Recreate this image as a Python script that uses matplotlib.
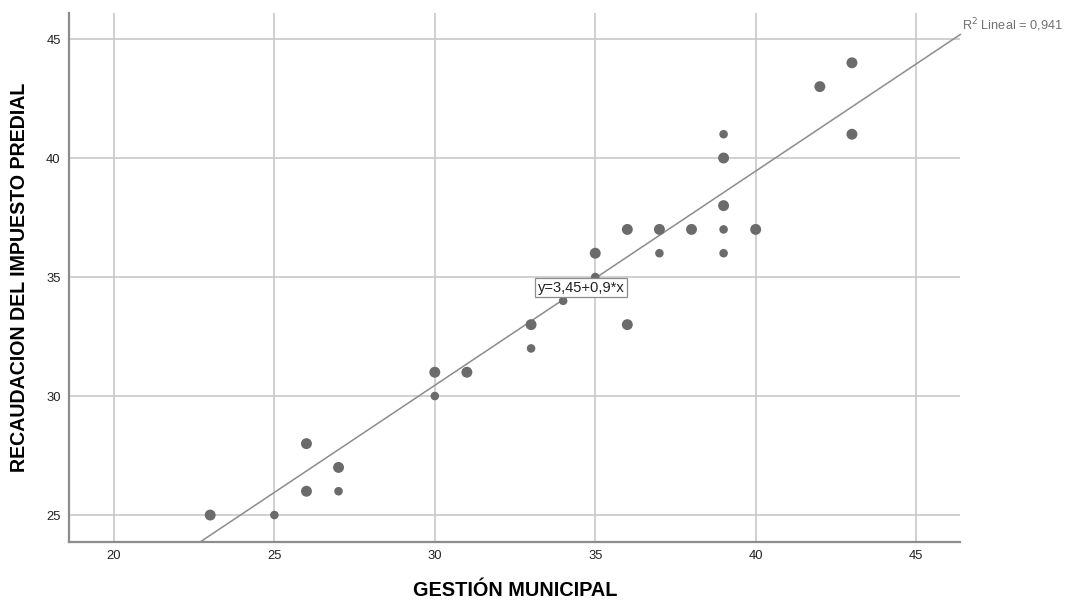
import matplotlib
matplotlib.use("Agg")
import matplotlib.pyplot as plt
import numpy as np

plt.rcParams['font.family'] = ['Liberation Sans', 'DejaVu Sans']

# Data
gestion = [23, 25, 26, 26, 27, 27, 30, 30, 31, 33, 33, 34, 35, 35, 36, 36,
           37, 37, 38, 39, 39, 39, 39, 39, 40, 42, 43, 43]
recaudacion = [25, 25, 28, 26, 27, 26, 31, 30, 31, 33, 32, 34, 36, 35, 37, 33,
               37, 36, 37, 41, 40, 38, 37, 36, 37, 43, 44, 41]
frecuencia = [2, 1, 2, 2, 2, 1, 2, 1, 2, 2, 1, 1, 2, 1, 2, 2,
              2, 1, 2, 1, 2, 2, 1, 1, 2, 2, 2, 2]
intercepto = 3.45
pendiente = 0.9
r2_text = "R$^2$ Lineal = 0,941"
eq_text = "y=3,45+0,9*x"
x_ticks = [20, 25, 30, 35, 40, 45]
y_ticks = [25, 30, 35, 40, 45]
x_label = "GESTIÓN MUNICIPAL"
y_label = "RECAUDACION DEL IMPUESTO PREDIAL"

fig = plt.figure(figsize=(10.68, 6.0), dpi=100)
ax = fig.add_axes([69/1068, 1 - 541.7/600, (960.4 - 69)/1068, (541.7 - 13.3)/600])

xmin, xmax = 18.6, 46.38
ymin, ymax = 23.88, 46.08
ax.set_xlim(xmin, xmax)
ax.set_ylim(ymin, ymax)

# grid
grid_c = '#c8c8c8'
for xt in x_ticks:
    ax.axvline(xt, color=grid_c, lw=1.2, zorder=0)
for yt in y_ticks:
    ax.axhline(yt, color=grid_c, lw=1.2, zorder=0)

# spines
for s in ['top', 'right']:
    ax.spines[s].set_visible(False)
for s in ['left', 'bottom']:
    ax.spines[s].set_color('#8c8c8c')
    ax.spines[s].set_linewidth(1.6)

ax.set_xticks(x_ticks)
ax.set_yticks(y_ticks)
ax.tick_params(axis='both', length=0, labelsize=9.4, colors='#222222', pad=6)

# points
sizes = [62 if f > 1 else 38 for f in frecuencia]
ax.scatter(gestion, recaudacion, s=sizes, color='#6b6b6b', edgecolors='none', zorder=3)

# regression line
x0 = (ymin - intercepto) / pendiente
xs = np.array([x0, xmax])
ax.plot(xs, intercepto + pendiente * xs, color='#8c8c8c', lw=1.1, zorder=2, clip_on=False)

# equation box
ax.text(34.56, 34.55, eq_text, fontsize=10.6, ha='center', va='center', color='#222222',
        bbox=dict(boxstyle='square,pad=0.18', facecolor='white', edgecolor='#8c8c8c', lw=0.9),
        zorder=4)

# R2 label
ax.text(xmax + 0.04, 45.6, r2_text, fontsize=9.2, ha='left', va='center', color='#707070',
        clip_on=False)

fig.text(515/1068, 1 - 591/600, x_label, fontsize=14.3, fontweight='bold', ha='center', va='center')
fig.text(19.5/1068, 1 - 277.5/600, y_label, fontsize=14.1, fontweight='bold', ha='center', va='center',
         rotation=90)

fig.savefig('out.png', dpi=100)
